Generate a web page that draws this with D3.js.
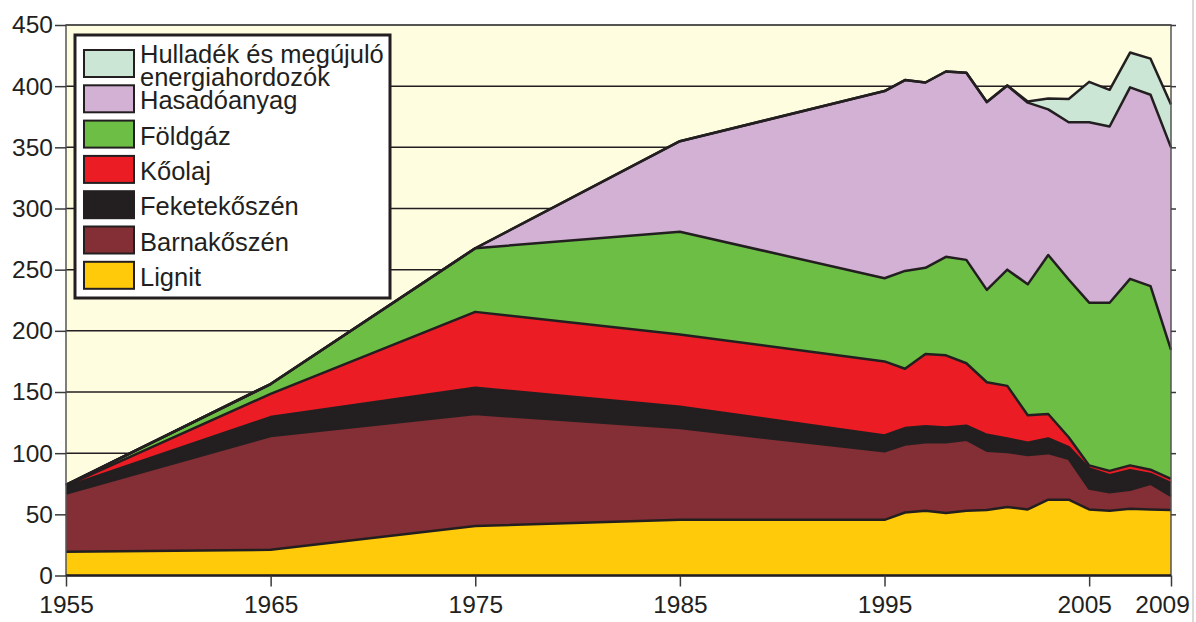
<!DOCTYPE html>
<html>
<head>
<meta charset="utf-8">
<script src="https://cdn.jsdelivr.net/npm/d3@7"></script>
<style>
  body { margin: 0; background: #fff; }
  svg { display: block; font-family: "Liberation Sans", Arial, sans-serif; }
  .axis text { font-size: 24.5px; fill: #231f20; }
  .axis line { stroke: #3a3a3a; stroke-width: 1.5; }
  .axis path { display: none; }
</style>
</head>
<body>
<div id="chart"></div>
<script>
// years on the x axis
var years = [1955, 1965, 1975, 1985, 1995, 1996, 1997, 1998, 1999, 2000, 2001, 2002, 2003, 2004, 2005, 2006, 2007, 2008, 2009];

// layer values, bottom to top
var lignit      = [19.5, 21, 40.5, 45.5, 45.5, 51.5, 53, 51, 53, 53.5, 56, 54, 62, 62, 54, 53, 54.5, 54, 53.5];
var barnakoszen = [47.5, 93, 91.5, 75, 56, 55.5, 56, 58, 58, 48.5, 45, 44.5, 38, 33.5, 17, 15, 15.5, 21, 11.5];
var feketekoszen= [5.5, 15.5, 21.5, 17.5, 13, 13.5, 13, 12, 11.5, 13, 11, 10, 12, 9.5, 16.5, 14, 16, 8, 10.5];
var koolaj      = [1, 19, 62, 59, 60.5, 48.5, 59, 59, 51, 43, 43, 22.5, 20, 8, 2.5, 3.5, 4, 3.5, 3.5];
var foldgaz     = [0.5, 8, 52, 84, 68, 80, 70.5, 80.5, 84.5, 75.5, 95, 107, 130, 129, 133, 137.5, 152.5, 150, 105.5];
var hasadoanyag = [0, 0, 0, 74, 153, 156, 151.5, 151.5, 153, 153.5, 150.5, 148.5, 119, 128.5, 147.5, 144, 156.5, 156.5, 165.5];
var hulladek    = [0, 0, 0, 0, 0, 0, 0, 0, 0, 0, 0, 1, 9, 19, 33, 30, 28.5, 29.5, 35];

var seriesNames = ["Lignit", "Barnakőszén", "Feketekőszén", "Kőolaj", "Földgáz", "Hasadóanyag", "Hulladék és megújuló energiahordozók"];
var seriesColors = ["#ffca0a", "#842f35", "#231f20", "#ec1c24", "#6dbe45", "#d3b1d5", "#cbe6d5"];
var legendLines = [["Hulladék és megújuló", "energiahordozók"], ["Hasadóanyag"], ["Földgáz"], ["Kőolaj"], ["Feketekőszén"], ["Barnakőszén"], ["Lignit"]];
var yTicks = [0, 50, 100, 150, 200, 250, 300, 350, 400, 450];
var xTicks = [1955, 1965, 1975, 1985, 1995, 2005, 2009];

var W = 1196, H = 622;
var x0 = 66, x1 = 1171, yTop = 25, yBot = 575.5;

var svg = d3.select("#chart").append("svg")
    .attr("width", W)
    .attr("height", H);

var x = d3.scaleLinear().domain([1955, 2009]).range([x0, x1]);
var y = d3.scaleLinear().domain([0, 450]).range([yBot, yTop]);

var table = years.map(function(yr, i) {
  return {
    year: yr,
    s0: lignit[i], s1: barnakoszen[i], s2: feketekoszen[i], s3: koolaj[i],
    s4: foldgaz[i], s5: hasadoanyag[i], s6: hulladek[i]
  };
});
var keys = ["s0", "s1", "s2", "s3", "s4", "s5", "s6"];
var stacked = d3.stack().keys(keys)(table);

// background of plot
svg.append("rect")
    .attr("x", x0).attr("y", yTop)
    .attr("width", x1 - x0).attr("height", yBot - yTop)
    .attr("fill", "#fefde0");

// gridlines
svg.append("g").selectAll("line")
    .data(yTicks.slice(1))
  .enter().append("line")
    .attr("x1", x0).attr("x2", x1)
    .attr("y1", function(d) { return y(d); })
    .attr("y2", function(d) { return y(d); })
    .attr("stroke", "#231f20")
    .attr("stroke-width", 1.5);

var area = d3.area()
    .x(function(d) { return x(d.data.year); })
    .y0(function(d) { return y(d[0]); })
    .y1(function(d) { return y(d[1]); });

var topLine = d3.line()
    .x(function(d) { return x(d.data.year); })
    .y(function(d) { return y(d[1]); });

svg.append("g").selectAll("path")
    .data(stacked)
  .enter().append("path")
    .attr("d", area)
    .attr("fill", function(d, i) { return seriesColors[i]; });

svg.append("g").selectAll("path")
    .data(stacked)
  .enter().append("path")
    .attr("d", topLine)
    .attr("fill", "none")
    .attr("stroke", "#231f20")
    .attr("stroke-width", 2.5)
    .attr("stroke-linejoin", "round");

// frame
svg.append("rect")
    .attr("x", x0).attr("y", yTop)
    .attr("width", x1 - x0).attr("height", yBot - yTop)
    .attr("fill", "none")
    .attr("stroke", "#555")
    .attr("stroke-width", 1.5);
svg.append("line")
    .attr("x1", x0).attr("x2", x1)
    .attr("y1", yBot).attr("y2", yBot)
    .attr("stroke", "#231f20").attr("stroke-width", 2.5);

// axes
svg.append("g")
    .attr("class", "axis")
    .attr("transform", "translate(" + x0 + ",0)")
    .call(d3.axisLeft(y).tickValues(yTicks).tickSize(11).tickPadding(2));

svg.append("g")
    .attr("class", "axis")
    .attr("transform", "translate(" + x1 + ",0)")
    .call(d3.axisRight(y).tickValues(yTicks.slice(1)).tickSize(5).tickFormat(""));

var xAxis = svg.append("g")
    .attr("class", "axis")
    .attr("transform", "translate(0," + yBot + ")")
    .call(d3.axisBottom(x).tickValues(xTicks).tickSize(11).tickPadding(9).tickFormat(d3.format("d")));
xAxis.selectAll("text")
    .attr("dx", function(d) { return d === 2009 ? -9 : (d === 2005 ? -5 : 0); });

// legend
var lg = svg.append("g").attr("transform", "translate(75,35)");
lg.append("rect")
    .attr("width", 315).attr("height", 263)
    .attr("fill", "#fff")
    .attr("stroke", "#231f20")
    .attr("stroke-width", 3);

var legendColors = seriesColors.slice().reverse();
var item = lg.selectAll("g.item")
    .data(legendLines)
  .enter().append("g")
    .attr("class", "item")
    .attr("transform", function(d, i) { return "translate(9," + (15 + i * 35.3) + ")"; });

item.append("rect")
    .attr("width", 50).attr("height", 27)
    .attr("fill", function(d, i) { return legendColors[i]; })
    .attr("stroke", "#231f20")
    .attr("stroke-width", 2);

item.each(function(d) {
  var g = d3.select(this);
  d.forEach(function(t, j) {
    g.append("text")
      .attr("x", 56)
      .attr("y", (d.length > 1 ? 13 : 24) + j * 23)
      .attr("font-size", "25.5px")
      .attr("fill", "#231f20")
      .text(t);
  });
});

// page edge line at right
svg.append("line")
    .attr("x1", 1193).attr("x2", 1193)
    .attr("y1", 0).attr("y2", H)
    .attr("stroke", "#ccc").attr("stroke-width", 1.5);
</script>
</body>
</html>
